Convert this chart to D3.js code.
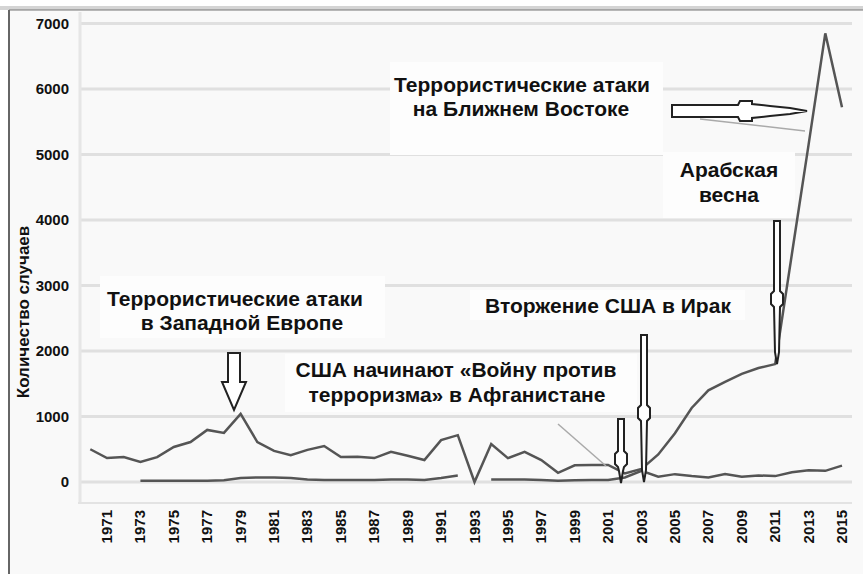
<!DOCTYPE html>
<html>
<head>
<meta charset="utf-8">
<script src="https://cdn.jsdelivr.net/npm/d3@7"></script>
<style>
  body { margin: 0; background: #fff; }
  text { font-family: "Liberation Sans", Arial, sans-serif; font-weight: bold; fill: #111; }
</style>
</head>
<body>
<svg id="chart"></svg>
<script>
const years = d3.range(1970, 2016);
// total incidents (upper line)
const mainVals = [500, 365, 380, 305, 380, 535, 610, 795, 750, 1040,
  610, 475, 410, 490, 550, 380, 385, 365, 460, 400,
  335, 640, 715, 0, 580, 365, 460, 335, 140, 255,
  260, 260, 130, 200, 420, 745, 1130, 1400, 1530, 1650,
  1740, 1800, 3480, 5150, 6850, 5720];
// lower line, starts 1973, gap in 1993
const lowVals = [null, null, null, 20, 20, 20, 20, 20, 25, 60,
  70, 70, 60, 40, 30, 30, 30, 30, 40, 40,
  30, 60, 100, null, 40, 40, 40, 30, 20, 25,
  30, 30, 70, 170, 80, 120, 90, 70, 120, 80,
  100, 90, 150, 180, 170, 250];
const yTicks = [0, 1000, 2000, 3000, 4000, 5000, 6000, 7000];
const yearLabels = d3.range(1971, 2016, 2);

const w = 863, h = 574;
const svg = d3.select("#chart").attr("width", w).attr("height", h);

const x = d3.scaleLinear().domain([1970, 2015]).range([90.3, 842]);
const y = d3.scaleLinear().domain([0, 7000]).range([482, 23.5]);

// frame
svg.append("rect").attr("x", 0).attr("y", 6).attr("width", w).attr("height", 4).attr("fill", "#d4d4d4");
svg.append("rect").attr("x", 9).attr("y", 10).attr("width", w - 9).attr("height", h - 10).attr("fill", "#f9f9f9");
svg.append("line").attr("x1", 9).attr("x2", w).attr("y1", 10).attr("y2", 10).attr("stroke", "#777").attr("stroke-width", 1);
svg.append("line").attr("x1", 9).attr("x2", 9).attr("y1", 10).attr("y2", h).attr("stroke", "#666").attr("stroke-width", 2);

// gridlines
svg.append("g").selectAll("line")
  .data(yTicks)
  .enter()
  .append("line")
  .attr("x1", 80).attr("x2", 852)
  .attr("y1", d => y(d)).attr("y2", d => y(d))
  .attr("stroke", "#e0e0e0")
  .attr("stroke-width", 3);
svg.append("line").attr("x1", 80).attr("x2", 80).attr("y1", 12).attr("y2", 503)
  .attr("stroke", "#e6e6e6").attr("stroke-width", 3);
svg.append("line").attr("x1", 78).attr("x2", 852).attr("y1", 503).attr("y2", 503)
  .attr("stroke", "#e3e3e3").attr("stroke-width", 2);

// white boxes behind annotations
const boxes = [[390, 62, 273, 93], [663, 152, 132, 66], [100, 276, 285, 62],
  [470, 290, 275, 30], [285, 354, 352, 58]];
svg.append("g").selectAll("rect")
  .data(boxes)
  .enter()
  .append("rect")
  .attr("x", d => d[0]).attr("y", d => d[1])
  .attr("width", d => d[2]).attr("height", d => d[3])
  .attr("fill", "#fdfdfd");

// y axis labels
svg.append("g").selectAll("text")
  .data(yTicks)
  .enter()
  .append("text")
  .text(d => d)
  .attr("x", 69)
  .attr("y", d => y(d))
  .attr("dy", "0.36em")
  .attr("text-anchor", "end")
  .attr("font-size", "15px");

svg.append("text")
  .text("Количество случаев")
  .attr("transform", "translate(29,312) rotate(-90)")
  .attr("text-anchor", "middle")
  .attr("font-size", "17px");

// x axis labels
svg.append("g").selectAll("text")
  .data(yearLabels)
  .enter()
  .append("text")
  .text(d => d)
  .attr("transform", d => `translate(${x(d) + 5},510) rotate(-90)`)
  .attr("text-anchor", "end")
  .attr("font-size", "15px");

// lines
const mainLine = d3.line()
  .x((d, i) => x(years[i]))
  .y(d => y(d));
const lowLine = d3.line()
  .defined(d => d !== null)
  .x((d, i) => x(years[i]))
  .y(d => y(d));

svg.append("path").datum(mainVals).attr("d", mainLine)
  .attr("fill", "none").attr("stroke", "#555").attr("stroke-width", 2.5);
svg.append("path").datum(lowVals).attr("d", lowLine)
  .attr("fill", "none").attr("stroke", "#555").attr("stroke-width", 2.5);

// thin grey leader remnants
svg.append("line").attr("x1", 700).attr("y1", 119).attr("x2", 805).attr("y2", 131)
  .attr("stroke", "#aaa").attr("stroke-width", 1.5);
svg.append("line").attr("x1", 558).attr("y1", 424).attr("x2", 606).attr("y2", 466)
  .attr("stroke", "#aaa").attr("stroke-width", 1.5);

// arrows
function slimArrow(cx, top, yc, tip) {
  return [[cx - 3, top], [cx + 3, top], [cx + 3, yc], [cx + 6, yc + 3], [cx + 6, yc + 13],
    [cx + 3, yc + 16], [cx + 2, tip - 12], [cx, tip], [cx - 2, tip - 12], [cx - 3, yc + 16],
    [cx - 6, yc + 13], [cx - 6, yc + 3], [cx - 3, yc]];
}
const arrows = [
  slimArrow(777, 221, 291, y(1800)),
  slimArrow(644, 335, 405, 482),
  slimArrow(621, 419, 451, 483),
  [[228, 353], [240, 353], [240, 382], [246, 382], [234, 410], [222, 382], [228, 382]],
  [[672, 105], [738, 105], [740, 101], [752, 101], [752, 104], [770, 106], [790, 108], [807, 111],
    [790, 114], [770, 116], [752, 118], [752, 121], [740, 121], [738, 117], [672, 117]]
];
svg.append("g").selectAll("polygon")
  .data(arrows)
  .enter()
  .append("polygon")
  .attr("points", d => d.map(p => p.join(",")).join(" "))
  .attr("fill", "#fff")
  .attr("stroke", "#222")
  .attr("stroke-width", 2)
  .attr("stroke-linejoin", "miter");

// annotation texts
const notes = [
  ["Террористические атаки", 522, 92],
  ["на Ближнем Востоке", 521, 116],
  ["Арабская", 729, 177],
  ["весна", 729, 202],
  ["Вторжение США в Ирак", 608, 313],
  ["США начинают «Войну против", 456, 377],
  ["терроризма» в Афганистане", 457, 402],
  ["Террористические атаки", 235, 306],
  ["в Западной Европе", 242, 330]
];
svg.append("g").selectAll("text")
  .data(notes)
  .enter()
  .append("text")
  .text(d => d[0])
  .attr("x", d => d[1])
  .attr("y", d => d[2])
  .attr("text-anchor", "middle")
  .attr("font-size", "21px");
</script>
</body>
</html>
